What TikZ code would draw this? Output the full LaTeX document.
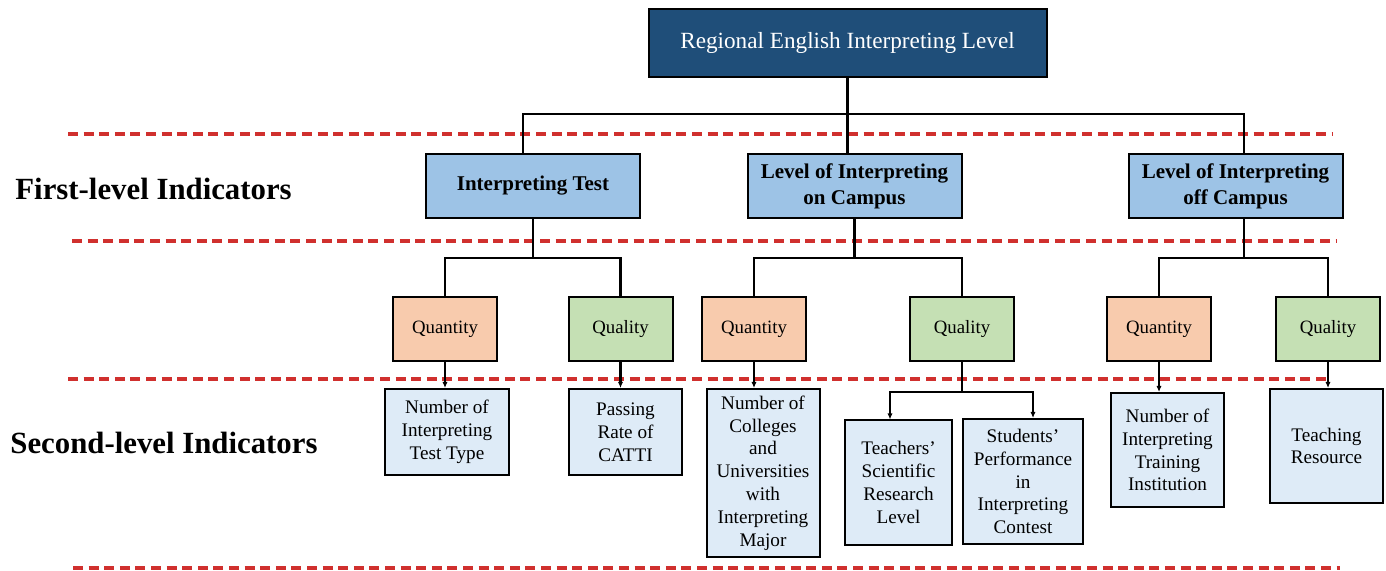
\documentclass[tikz,border=0pt]{standalone}
\usepackage{fontspec}
\setmainfont{Liberation Serif}
\usetikzlibrary{arrows.meta}

\definecolor{topblue}{HTML}{1F4E79}
\definecolor{firstblue}{HTML}{9DC3E6}
\definecolor{qtyorange}{HTML}{F8CBAD}
\definecolor{qlygreen}{HTML}{C5E0B4}
\definecolor{leafblue}{HTML}{DEEBF7}
\definecolor{sepred}{HTML}{D0302E}

\begin{document}
\begin{tikzpicture}[
    x=0.5pt, y=-0.5pt, >={Latex[length=3pt,width=2.6pt]},
    box/.style={draw, line width=1pt, align=center, inner sep=0pt},
    topbox/.style={box, fill=topblue, text=white, minimum width=199pt,
      minimum height=34pt, font=\fontsize{11.6}{14}\selectfont},
    firstbox/.style={box, fill=firstblue, minimum width=107pt, minimum height=32pt,
      font=\bfseries\fontsize{10.5}{13}\selectfont},
    qtybox/.style={box, fill=qtyorange, minimum width=52pt, minimum height=32pt,
      font=\fontsize{9.4}{11}\selectfont},
    qlybox/.style={qtybox, fill=qlygreen},
    leaf/.style={box, fill=leafblue, font=\fontsize{9.6}{11.4}\selectfont},
    level/.style={anchor=west, inner sep=0pt, font=\bfseries\fontsize{15.4}{18}\selectfont},
    sep/.style={draw=sepred, line width=1.6pt, dash pattern=on 5pt off 2.8pt},
    link/.style={draw, line width=1.1pt}]
  \useasboundingbox (0,0) rectangle (1386,571);

  % separators between the levels
  \draw[sep] (68,134) -- (1332,134);
  \draw[sep] (72,241) -- (1337,241);
  \draw[sep] (68,379) -- (1330,379);
  \draw[sep] (73,568) -- (1340,568);

  \node[level] (first) at (15,189) {First-level Indicators};
  \node[level] (second) at (10,443) {Second-level Indicators};

  \node[topbox] (rel) at (847.5,43) {Regional English Interpreting Level};

  \node[firstbox] (test) at (533,186) {Interpreting Test};
  \node[firstbox] (on) at (854.5,186) {Level of Interpreting\\on Campus};
  \node[firstbox] (off) at (1235.5,186) {Level of Interpreting\\off Campus};

  \node[qtybox] (qt1) at (445,329) {Quantity};
  \node[qlybox] (ql1) at (620.5,329) {Quality};
  \node[qtybox] (qt2) at (754,329) {Quantity};
  \node[qlybox] (ql2) at (962,329) {Quality};
  \node[qtybox] (qt3) at (1159,329) {Quantity};
  \node[qlybox] (ql3) at (1328,329) {Quality};

  \node[leaf, minimum width=62pt, minimum height=43pt] (lf1) at (447,432)
    {Number of\\Interpreting\\Test Type};
  \node[leaf, minimum width=56.5pt, minimum height=43pt] (lf2) at (625.5,432)
    {Passing\\Rate of\\CATTI};
  \node[leaf, minimum width=56.5pt, minimum height=84pt] (lf3) at (763,473)
    {Number of\\Colleges\\and\\Universities\\with\\Interpreting\\Major};
  \node[leaf, minimum width=53.5pt, minimum height=62pt] (lf4) at (898.5,482.5)
    {Teachers’\\Scientific\\Research\\Level};
  \node[leaf, minimum width=60pt, minimum height=62.5pt] (lf5) at (1023,481.5)
    {Students’\\Performance\\in\\Interpreting\\Contest};
  \node[leaf, minimum width=56.5pt, minimum height=57pt] (lf6) at (1167.5,450)
    {Number of\\Interpreting\\Training\\Institution};
  \node[leaf, minimum width=56.5pt, minimum height=57pt] (lf7) at (1326.5,446)
    {Teaching\\Resource};

  % top to first level
  \path (rel.south) ++(0,36) coordinate (bus);
  \draw[link] (rel.south) -- (rel.south |- on.north);
  \draw[link] ([xshift=-5.15pt]test.north) |- (bus) -| ([xshift=4.25pt]off.north);

  % first level to quantity / quality
  \path (test.south) ++(0,39) coordinate (b1);
  \path (on.south) ++(0,39) coordinate (b2);
  \path ([xshift=4.25pt]off.south) ++(0,39) coordinate (b3);
  \draw[link] (test.south) -- (b1);
  \draw[link] (on.south) -- (b2);
  \draw[link] ([xshift=4.25pt]off.south) -- (b3);
  \draw[link] (qt1.north) |- (b1) -| (ql1.north);
  \draw[link] (qt2.north) |- (b2) -| (ql2.north);
  \draw[link] (qt3.north) |- (b3) -| (ql3.north);

  % quantity / quality to second-level indicators
  \draw[link, ->] (qt1.south) -- (qt1.south |- lf1.north);
  \draw[link, ->] (ql1.south) -- (ql1.south |- lf2.north);
  \draw[link, ->] (qt2.south) -- (qt2.south |- lf3.north);
  \path (ql2.south) ++(0,30) coordinate (b4);
  \draw[link] (ql2.south) -- (b4);
  \draw[link, ->] (b4) -| ([xshift=-4.25pt]lf4.north);
  \draw[link, ->] (b4) -| ([xshift=5pt]lf5.north);
  \draw[link, ->] (qt3.south) -- (qt3.south |- lf6.north);
  \draw[link, ->] (ql3.south) -- (ql3.south |- lf7.north);
\end{tikzpicture}
\end{document}
